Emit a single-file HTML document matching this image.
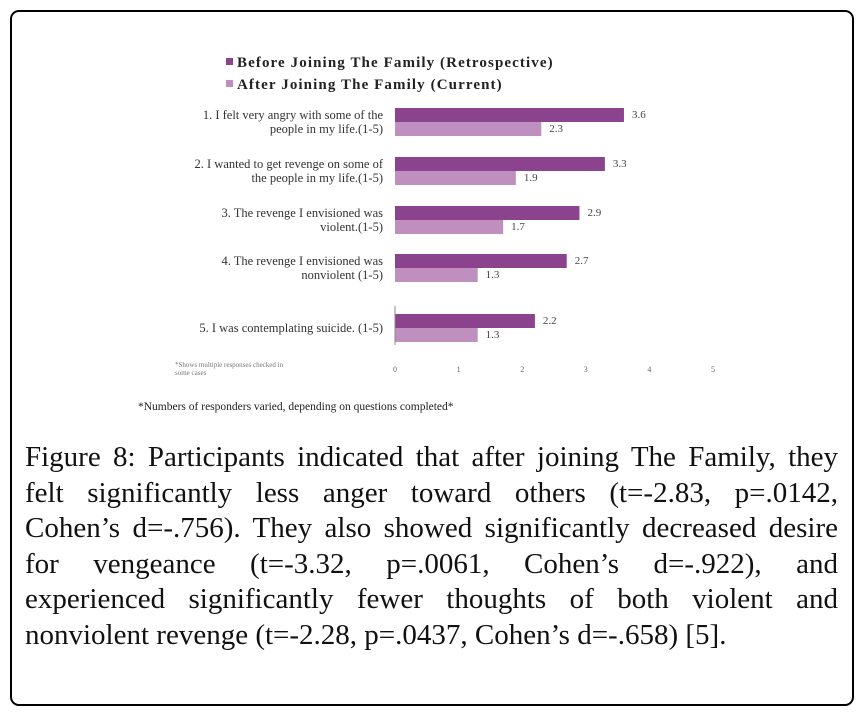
<!DOCTYPE html>
<html><head><meta charset="utf-8">
<style>
html,body{margin:0;padding:0;background:#fff;}
body{width:863px;height:714px;position:relative;overflow:hidden;font-family:"Liberation Serif",serif;}
#frame{position:absolute;left:10px;top:10px;width:840px;height:692px;border:2px solid #000;border-radius:9px;}
#caption{position:absolute;left:25px;top:440px;width:813px;font-size:29px;line-height:35.6px;color:#111;}
#caption div{text-align:justify;text-align-last:justify;white-space:nowrap;}
#caption div.last{text-align-last:left;}
svg{position:absolute;left:0;top:0;}
</style></head>
<body>
<div id="frame"></div>
<svg id="chart" width="863" height="440"></svg>
<div id="caption">
<div>Figure 8: Participants indicated that after joining The Family, they</div>
<div>felt significantly less anger toward others (t=-2.83, p=.0142,</div>
<div>Cohen’s d=-.756). They also showed significantly decreased desire</div>
<div>for vengeance (t=-3.32, p=.0061, Cohen’s d=-.922), and</div>
<div>experienced significantly fewer thoughts of both violent and</div>
<div class="last">nonviolent revenge (t=-2.28, p=.0437, Cohen’s d=-.658) [5].</div>
</div>
<script>
const categories = [
  ["1. I felt very angry with some of the","people in my life.(1-5)"],
  ["2. I wanted to get revenge on some of","the people in my life.(1-5)"],
  ["3. The revenge I envisioned was","violent.(1-5)"],
  ["4. The revenge I envisioned was","nonviolent (1-5)"],
  ["5. I was contemplating suicide. (1-5)"]
];
const beforeValues = [3.6, 3.3, 2.9, 2.7, 2.2];
const afterValues = [2.3, 1.9, 1.7, 1.3, 1.3];
const beforeLabels = ["3.6","3.3","2.9","2.7","2.2"];
const afterLabels = ["2.3","1.9","1.7","1.3","1.3"];
const tickValues = [0,1,2,3,4,5];
const seriesNames = ["Before Joining The Family (Retrospective)","After Joining The Family (Current)"];

const NS="http://www.w3.org/2000/svg";
const svg=document.getElementById('chart');
const x0=395, unit=63.6;
const rowTops=[108,157,206,254,314];
const barH=14;
function xs(v){return x0+v*unit;}
function mk(tag,attrs,parent){const e=document.createElementNS(NS,tag);for(const k in attrs)e.setAttribute(k,attrs[k]);(parent||svg).appendChild(e);return e;}
const colors=["#8b438e","#be8fbf"];

seriesNames.forEach((n,i)=>{
  const sq=mk('rect',{x:226,y:58+i*22,width:7,height:7,fill:colors[i]});
  
  
  const t=mk('text',{x:237,y:67+i*22,'font-size':15,'font-weight':'bold',fill:'#222','font-family':'Liberation Serif, serif','letter-spacing':'1.1'});
  t.textContent=n;
  
  
});

categories.forEach((lines,i)=>{
  const top=rowTops[i];
  const b=mk('rect',{x:x0,y:top,width:xs(beforeValues[i])-x0,height:barH,fill:colors[0]});
  
  
  const a=mk('rect',{x:x0,y:top+barH,width:xs(afterValues[i])-x0,height:barH,fill:colors[1]});
  
  
  const lb=mk('text',{x:xs(beforeValues[i])+8,y:top+10,'font-size':11,fill:'#444'});
  lb.textContent=beforeLabels[i];
  
  
  const la=mk('text',{x:xs(afterValues[i])+8,y:top+barH+10,'font-size':11,fill:'#444'});
  la.textContent=afterLabels[i];
  
  
  const mid=top+barH;
  lines.forEach((ln,j)=>{
    const yy = lines.length===1 ? mid+4 : mid-3+j*14;
    const t=mk('text',{x:383,y:yy,'text-anchor':'end','font-size':12.5,fill:'#333'});
    t.textContent=ln;
    
    
  });
});

const ax=mk('line',{x1:x0,y1:306,x2:x0,y2:345,stroke:'#888','stroke-width':1});


tickValues.forEach(v=>{
  const t=mk('text',{x:xs(v),y:372,'text-anchor':'middle','font-size':8,fill:'#666'});
  t.textContent=String(v);
  
  
});
const n1=mk('text',{x:175,y:367,'font-size':7,fill:'#777'});
n1.textContent="*Shows multiple responses checked in";


const n2=mk('text',{x:175,y:375,'font-size':7,fill:'#777'});
n2.textContent="some cases";


const fn=mk('text',{x:138,y:410,'font-size':11.5,fill:'#222'});
fn.textContent="*Numbers of responders varied, depending on questions completed*";


</script>
</body></html>
